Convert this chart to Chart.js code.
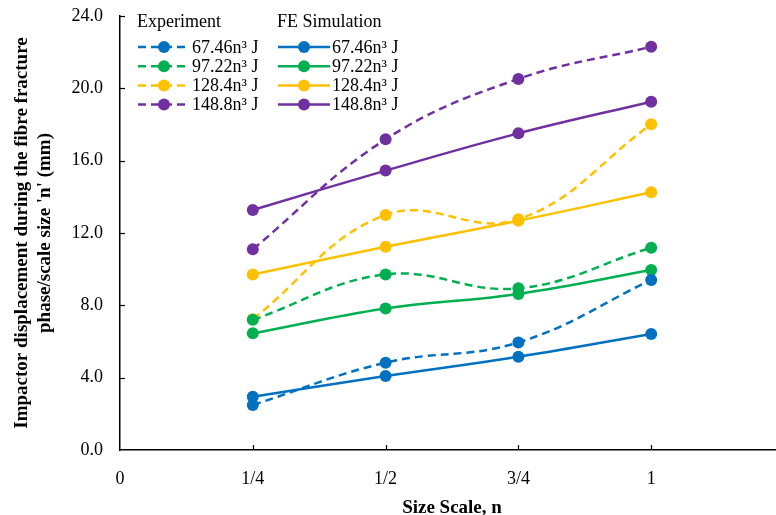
<!DOCTYPE html>
<html>
<head>
<meta charset="utf-8">
<script src="https://cdn.jsdelivr.net/npm/chart.js@4/dist/chart.umd.min.js"></script>
<style>
  html, body { margin: 0; padding: 0; background: #fff; overflow: hidden; }
  #wrap { width: 790px; height: 515px; position: relative; }
</style>
</head>
<body>
<div id="wrap"><canvas id="chart"></canvas></div>
<script>
// size scale n (x positions) and their tick labels
let sizeScale = [0.25, 0.5, 0.75, 1]
let xTickLabels = ['0', '1/4', '1/2', '3/4', '1']
let energyLabels = ['67.46n³ J', '97.22n³ J', '128.4n³ J', '148.8n³ J']
let colours = ['#0070C0', '#00B050', '#FFC000', '#7030A0']

// experiment (dashed)
let exp67 = [2.49, 4.83, 5.95, 9.40]
let exp97 = [7.20, 9.71, 8.94, 11.19]
let exp128 = [7.23, 13.00, 12.76, 18.01]
let exp148 = [11.10, 17.18, 20.52, 22.30]

// FE simulation (solid)
let fe67 = [2.95, 4.09, 5.16, 6.42]
let fe97 = [6.45, 7.83, 8.63, 9.95]
let fe128 = [9.71, 11.24, 12.68, 14.25]
let fe148 = [13.27, 15.45, 17.51, 19.26]

const serif = "'Liberation Serif', 'Times New Roman', serif"

function toPoints(vals) {
    return vals.map((v, i) => ({ x: sizeScale[i], y: v }))
}

function makeSet(vals, i, dashed) {
    return {
        label: energyLabels[i],
        data: toPoints(vals),
        borderColor: colours[i],
        backgroundColor: colours[i],
        pointBackgroundColor: colours[i],
        pointBorderColor: colours[i],
        pointRadius: 6,
        pointBorderWidth: 0,
        borderWidth: 2.5,
        borderDash: dashed ? [8, 5] : [],
        tension: 0.4,
        fill: false,
        group: dashed ? 'exp' : 'fe'
    }
}

let datasets = [
    makeSet(exp67, 0, true), makeSet(exp97, 1, true), makeSet(exp128, 2, true), makeSet(exp148, 3, true),
    makeSet(fe67, 0, false), makeSet(fe97, 1, false), makeSet(fe128, 2, false), makeSet(fe148, 3, false)
]

// ticks pointing into the plot, like the original
const innerTicks = {
    id: 'innerTicks',
    afterDatasetsDraw(chart) {
        const { ctx, scales: { x, y } } = chart
        ctx.save()
        ctx.strokeStyle = '#000'
        ctx.lineWidth = 1.2
        x.ticks.forEach(t => {
            if (t.value <= 0) return
            const px = Math.round(x.getPixelForValue(t.value)) + 0.5
            ctx.beginPath(); ctx.moveTo(px, y.bottom); ctx.lineTo(px, y.bottom - 5); ctx.stroke()
        })
        y.ticks.forEach(t => {
            if (t.value <= 0) return
            const py = Math.round(y.getPixelForValue(t.value)) + 0.5
            ctx.beginPath(); ctx.moveTo(x.left, py); ctx.lineTo(x.left + 5, py); ctx.stroke()
        })
        ctx.restore()
    }
}

// two-column legend: Experiment / FE Simulation
const groupLegend = {
    id: 'groupLegend',
    afterDraw(chart) {
        const ctx = chart.ctx
        const cols = [{ group: 'exp', head: 'Experiment', x: 137 }, { group: 'fe', head: 'FE Simulation', x: 277 }]
        ctx.save()
        ctx.font = '18px ' + serif
        ctx.textBaseline = 'middle'
        ctx.fillStyle = '#000'
        cols.forEach(c => {
            ctx.fillText(c.head, c.x, 22)
            let row = 0
            chart.data.datasets.forEach(ds => {
                if (ds.group !== c.group) return
                const cy = 47 + row * 19.2
                ctx.strokeStyle = ds.borderColor
                ctx.lineWidth = ds.borderWidth
                ctx.setLineDash(ds.borderDash)
                ctx.beginPath(); ctx.moveTo(c.x + 1, cy); ctx.lineTo(c.x + 53, cy); ctx.stroke()
                ctx.setLineDash([])
                ctx.fillStyle = ds.pointBackgroundColor
                ctx.beginPath(); ctx.arc(c.x + 27, cy, 6, 0, Math.PI * 2); ctx.fill()
                ctx.fillStyle = '#000'
                ctx.fillText(ds.label, c.x + 55, cy + 1)
                row++
            })
        })
        ctx.restore()
    }
}

new Chart(document.getElementById('chart'), {
    type: 'line',
    data: { datasets: datasets },
    options: {
        responsive: true,
        maintainAspectRatio: false,
        animation: false,
        layout: { padding: { top: 16, right: 4, bottom: 0, left: 0 } },
        plugins: { legend: { display: false }, tooltip: { enabled: false } },
        scales: {
            x: {
                type: 'linear',
                min: 0,
                max: 1.25,
                afterFit: s => { s.height = 65; s.paddingLeft = 0; s.paddingRight = 0 },
                afterBuildTicks: s => { s.ticks = [0, 0.25, 0.5, 0.75, 1, 1.25].map(v => ({ value: v })) },
                grid: { display: true, drawOnChartArea: false, drawTicks: false },
                border: { display: true, color: '#000', width: 1.5 },
                ticks: {
                    padding: 18,
                    color: '#000',
                    font: { family: serif, size: 18 },
                    callback: (v, i) => xTickLabels[i] ?? ''
                },
                title: {
                    display: true,
                    text: 'Size Scale, n',
                    color: '#000',
                    font: { family: serif, size: 19, weight: 'bold' },
                    padding: { top: 0, bottom: -4 }
                }
            },
            y: {
                min: 0,
                max: 24,
                afterFit: s => { s.width = 120; s.paddingTop = 0; s.paddingBottom = 0 },
                grid: { display: true, drawOnChartArea: false, drawTicks: false },
                border: { display: true, color: '#000', width: 1.5 },
                ticks: {
                    stepSize: 4,
                    padding: 17,
                    color: '#000',
                    font: { family: serif, size: 18 },
                    callback: v => v.toFixed(1)
                },
                title: {
                    display: true,
                    text: ['Impactor displacement during the fibre fracture', "phase/scale size 'n' (mm)"],
                    color: '#000',
                    font: { family: serif, size: 19, weight: 'bold' },
                    padding: { top: 11, bottom: 0 }
                }
            }
        }
    },
    plugins: [innerTicks, groupLegend]
})
</script>
</body>
</html>
